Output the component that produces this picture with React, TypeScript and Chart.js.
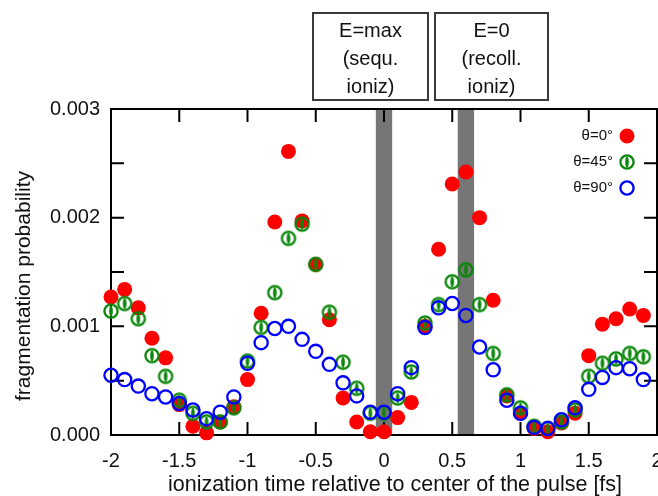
import React, { useEffect, useRef } from "react";
import { Chart, registerables } from "chart.js";

Chart.register(...registerables);

// ---- data ----
const xValues = [
  -2.0, -1.9, -1.8, -1.7, -1.6, -1.5, -1.4, -1.3, -1.2, -1.1,
  -1.0, -0.9, -0.8, -0.7, -0.6, -0.5, -0.4, -0.3, -0.2, -0.1,
  0.0, 0.1, 0.2, 0.3, 0.4, 0.5, 0.6, 0.7, 0.8, 0.9,
  1.0, 1.1, 1.2, 1.3, 1.4, 1.5, 1.6, 1.7, 1.8, 1.9,
];

const theta0 = [
  0.00127, 0.00134, 0.00117, 0.00089, 0.00071, 0.00028, 0.00008, 0.00002, 0.00012, 0.00026,
  0.00051, 0.00112, 0.00196, 0.00261, 0.00197, 0.00157, 0.00106, 0.00034, 0.00012, 0.00003,
  0.00003, 0.00016, 0.0003, 0.001, 0.00171, 0.00231, 0.00242, 0.002, 0.00124, 0.00036,
  0.0002, 0.00006, 0.00003, 0.00011, 0.0002, 0.00073, 0.00102, 0.00107, 0.00116, 0.0011,
];

const theta45 = [
  0.00114, 0.00121, 0.00107, 0.00073, 0.00054, 0.00032, 0.0002, 0.00012, 0.00012, 0.00025,
  0.00068, 0.00099, 0.00131, 0.00181, 0.00194, 0.00157, 0.00113, 0.00067, 0.00043, 0.0002,
  0.0002, 0.00034, 0.00058, 0.00103, 0.0012, 0.00141, 0.00152, 0.0012, 0.00075, 0.00037,
  0.00025, 0.00008, 0.00006, 0.00012, 0.00023, 0.00054, 0.00066, 0.0007, 0.00075, 0.00072,
];

const theta90 = [
  0.00055, 0.00051, 0.00045, 0.00038, 0.00035, 0.00029, 0.00023, 0.00015, 0.00021, 0.00035,
  0.00066, 0.00085, 0.00098, 0.001, 0.00088, 0.00077, 0.00065, 0.00048, 0.00036, 0.00021,
  0.00021, 0.00038, 0.00062, 0.00099, 0.00117, 0.00121, 0.0011, 0.00081, 0.0006, 0.00032,
  0.0002, 0.00007, 0.00006, 0.00014, 0.00025, 0.00042, 0.00053, 0.00062, 0.00061, 0.00051,
];

const seriesLabels = ["θ=0°", "θ=45°", "θ=90°"];
const bandStarts = [-0.06, 0.54];
const bandEnds = [0.06, 0.66];
const boxTexts = [
  ["E=max", "(sequ.", "ioniz)"],
  ["E=0", "(recoll.", "ioniz)"],
];
const xTitle = "ionization time relative to center of the pulse [fs]";
const yTitle = "fragmentation probability";

const FONT = "'Liberation Sans', Arial, Helvetica, sans-serif";
const RED = "#ff0000";
const GREEN = "#0a860a";
const BLUE = "#0000ff";

function makeGreenMarker(): HTMLCanvasElement {
  const c = document.createElement("canvas");
  c.width = 20;
  c.height = 20;
  const g = c.getContext("2d")!;
  g.strokeStyle = GREEN;
  g.fillStyle = GREEN;
  g.lineWidth = 2.3;
  g.beginPath();
  g.arc(10, 10, 6.6, 0, Math.PI * 2);
  g.stroke();
  g.beginPath();
  g.ellipse(10, 10, 1.8, 5.6, 0, 0, Math.PI * 2);
  g.fill();
  return c;
}

export default function App() {
  const ref = useRef<HTMLCanvasElement>(null);

  useEffect(() => {
    document.body.style.margin = "0";
    const canvas = ref.current!;
    const greenMarker = makeGreenMarker();

    const decorPlugin = {
      id: "decor",
      beforeDatasetsDraw(chart: any) {
        const { ctx, chartArea: a } = chart;
        const xs = chart.scales.x;
        const ys = chart.scales.y;
        ctx.save();
        ctx.fillStyle = "#767676";
        for (let i = 0; i < bandStarts.length; i++) {
          const x0 = xs.getPixelForValue(bandStarts[i]);
          const x1 = xs.getPixelForValue(bandEnds[i]);
          ctx.fillRect(x0, a.top, x1 - x0, a.bottom - a.top);
        }
        ctx.strokeStyle = "#000";
        ctx.lineWidth = 2;
        ctx.strokeRect(a.left, a.top, a.right - a.left, a.bottom - a.top);
        ctx.beginPath();
        const TL = 13;
        for (const t of xs.ticks) {
          const px = xs.getPixelForValue(t.value);
          ctx.moveTo(px, a.bottom);
          ctx.lineTo(px, a.bottom - TL);
          ctx.moveTo(px, a.top);
          ctx.lineTo(px, a.top + TL);
        }
        for (const t of ys.ticks) {
          const py = ys.getPixelForValue(t.value);
          ctx.moveTo(a.left, py);
          ctx.lineTo(a.left + TL, py);
          ctx.moveTo(a.right, py);
          ctx.lineTo(a.right - TL, py);
        }
        ctx.stroke();
        ctx.restore();
      },
      afterDraw(chart: any) {
        const { ctx } = chart;
        ctx.save();
        // annotation boxes
        const boxes = [
          { l: 313, t: 13, r: 428, b: 100 },
          { l: 435, t: 13, r: 548, b: 100 },
        ];
        ctx.strokeStyle = "#3a3a3a";
        ctx.lineWidth = 2;
        ctx.fillStyle = "#111";
        ctx.font = `20px ${FONT}`;
        ctx.textAlign = "center";
        ctx.textBaseline = "middle";
        boxes.forEach((bx, i) => {
          ctx.strokeRect(bx.l, bx.t, bx.r - bx.l, bx.b - bx.t);
          const cx = (bx.l + bx.r) / 2;
          boxTexts[i].forEach((line, j) => {
            ctx.fillText(line, cx, 31 + j * 28);
          });
        });
        // legend
        ctx.font = `15px ${FONT}`;
        ctx.textAlign = "right";
        ctx.fillStyle = "#111";
        const ly = [136, 162, 188];
        const mx = 627;
        seriesLabels.forEach((lab, i) => {
          ctx.fillText(lab, 613, ly[i]);
        });
        ctx.fillStyle = RED;
        ctx.beginPath();
        ctx.arc(mx, ly[0], 7.5, 0, Math.PI * 2);
        ctx.fill();
        ctx.drawImage(greenMarker, mx - 10, ly[1] - 10);
        ctx.strokeStyle = BLUE;
        ctx.lineWidth = 2.3;
        ctx.beginPath();
        ctx.arc(mx, ly[2], 6.6, 0, Math.PI * 2);
        ctx.stroke();
        // axis titles
        ctx.fillStyle = "#111";
        ctx.font = `21.5px ${FONT}`;
        ctx.textAlign = "center";
        ctx.textBaseline = "alphabetic";
        ctx.fillText(xTitle, 395, 491);
        ctx.font = `21px ${FONT}`;
        ctx.translate(30, 286);
        ctx.rotate(-Math.PI / 2);
        ctx.fillText(yTitle, 0, 0);
        ctx.restore();
      },
    };

    const mk = (vals: number[]) => xValues.map((x, i) => ({ x, y: vals[i] }));

    const chart = new Chart(canvas, {
      type: "scatter",
      data: {
        datasets: [
          {
            label: seriesLabels[0],
            data: mk(theta0),
            order: 3,
            pointStyle: "circle",
            pointRadius: 7.5,
            pointBackgroundColor: RED,
            pointBorderWidth: 0,
            clip: false,
          } as any,
          {
            label: seriesLabels[1],
            data: mk(theta45),
            order: 2,
            pointStyle: greenMarker,
            pointRadius: 7,
            clip: false,
          } as any,
          {
            label: seriesLabels[2],
            data: mk(theta90),
            order: 1,
            pointStyle: "circle",
            pointRadius: 6.6,
            pointBackgroundColor: "rgba(0,0,0,0)",
            pointBorderColor: BLUE,
            pointBorderWidth: 2.3,
            clip: false,
          } as any,
        ],
      },
      options: {
        animation: false,
        responsive: false,
        devicePixelRatio: 1,
        layout: {
          autoPadding: false,
          padding: { top: 109, right: 1, left: 0, bottom: 0 },
        },
        plugins: {
          legend: { display: false },
          tooltip: { enabled: false },
        },
        scales: {
          x: {
            type: "linear",
            min: -2,
            max: 2,
            grid: { display: false, drawTicks: false },
            border: { display: false },
            ticks: {
              stepSize: 0.5,
              padding: 14,
              color: "#111",
              autoSkip: false,
              maxRotation: 0,
              font: { family: FONT, size: 20 },
              callback: (v: any) => String(Number(v)),
            },
            afterFit: (s: any) => {
              s.height = 61;
              s.paddingLeft = 0;
              s.paddingRight = 0;
            },
          },
          y: {
            type: "linear",
            min: 0,
            max: 0.003,
            grid: { display: false, drawTicks: false },
            border: { display: false },
            ticks: {
              stepSize: 0.0005,
              padding: 11,
              color: "#111",
              autoSkip: false,
              font: { family: FONT, size: 20 },
              callback: (v: any) => {
                const m = Number(v) * 1000;
                return Math.abs(m - Math.round(m)) < 1e-6
                  ? (Math.round(m) / 1000).toFixed(3)
                  : "";
              },
            },
            afterFit: (s: any) => {
              s.width = 111;
              s.paddingTop = 0;
              s.paddingBottom = 0;
            },
          },
        },
      } as any,
      plugins: [decorPlugin],
    });

    return () => chart.destroy();
  }, []);

  return (
    <div style={{ width: 658, height: 496, background: "#fff" }}>
      <canvas ref={ref} width={658} height={496} style={{ display: "block" }} />
    </div>
  );
}
